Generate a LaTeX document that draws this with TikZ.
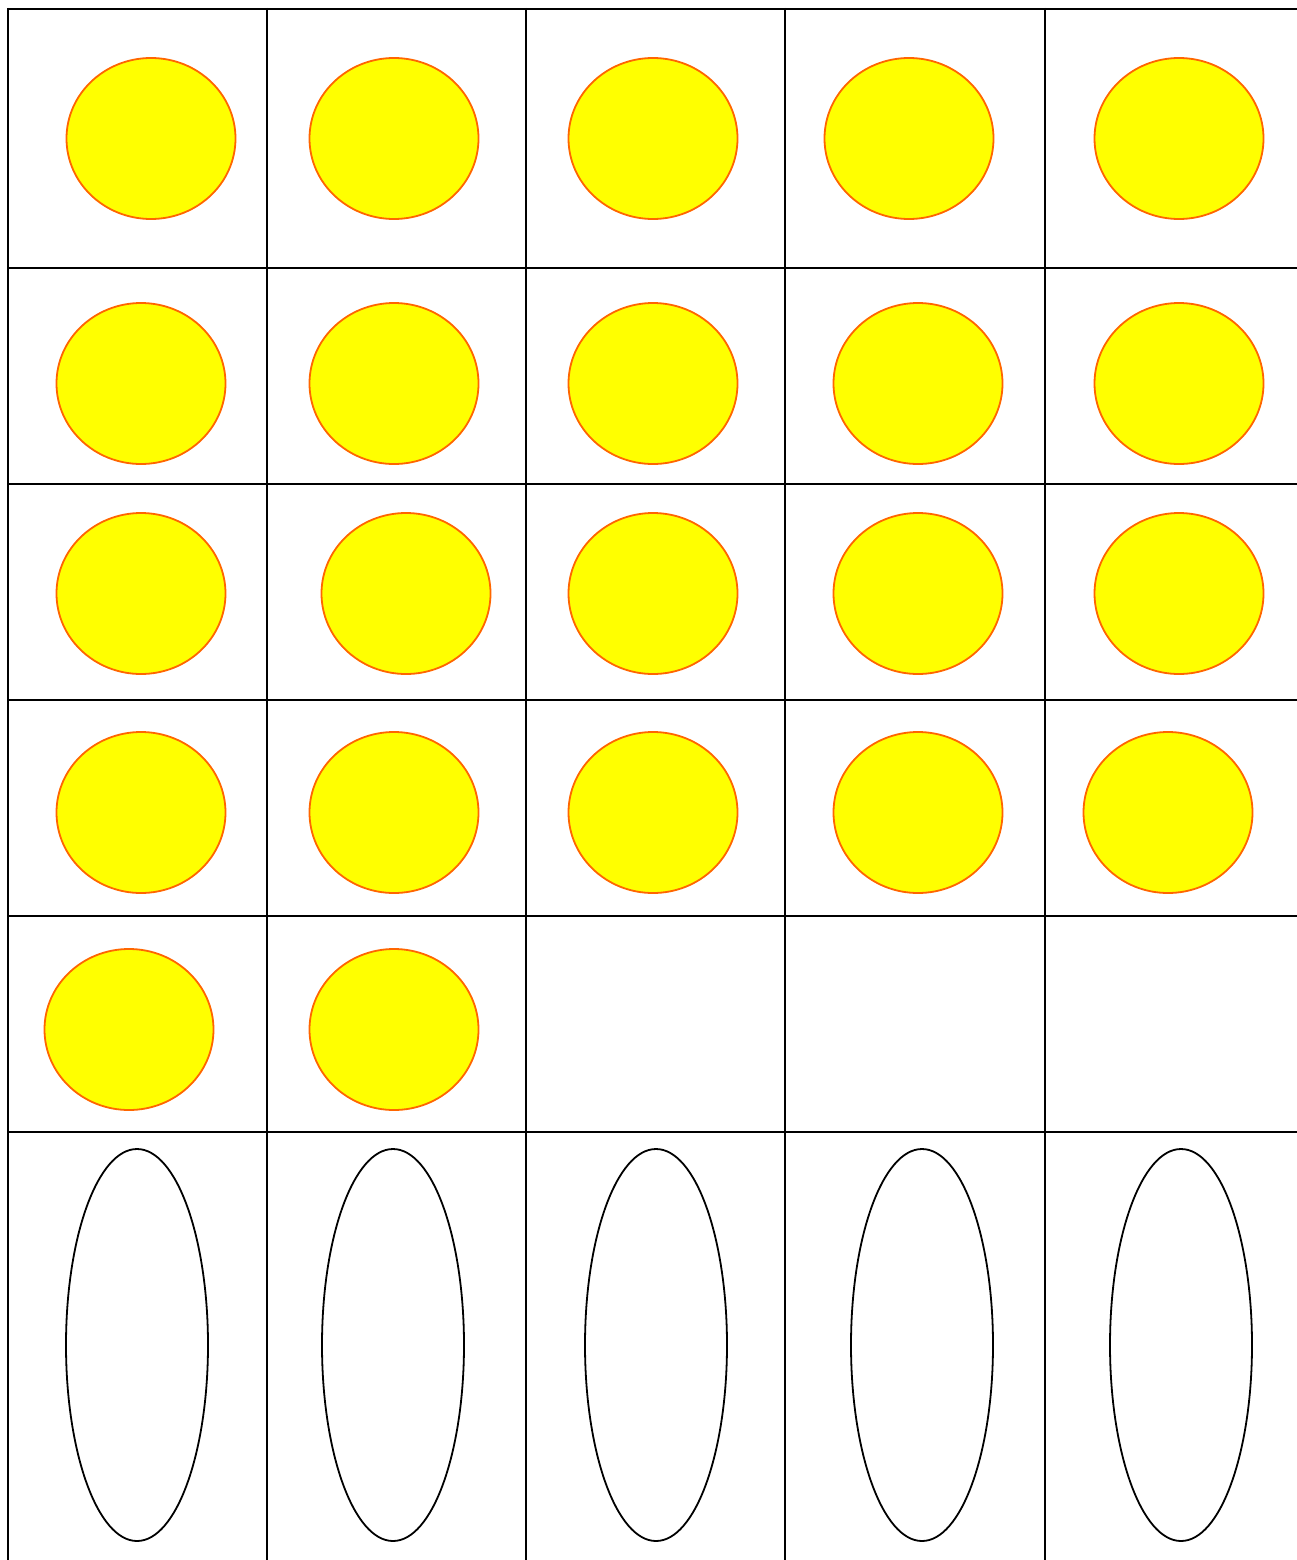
\documentclass[tikz,border=0pt]{standalone}
\usetikzlibrary{shapes.geometric}
\definecolor{sunfill}{RGB}{255,255,0}
\definecolor{sunline}{RGB}{255,102,0}
\begin{document}
\begin{tikzpicture}[x=1pt,y=-1pt,
  gridline/.style={line width=2pt,black},
  sun/.style={ellipse,draw=sunline,fill=sunfill,line width=1.8pt,minimum width=169pt,minimum height=161pt,inner sep=0pt},
  pod/.style={ellipse,draw=black,line width=1.8pt,minimum width=142pt,minimum height=392pt,inner sep=0pt}]
\useasboundingbox (0,0) rectangle (1297,1560);
\foreach \yy in {9,268,484,700,916,1132} \draw[gridline] (7,\yy) -- (1297,\yy);
\foreach \xx in {8,267,526,785,1045} \draw[gridline] (\xx,8) -- (\xx,1560);
% row 1
\node[sun] (a1) at (151,138.5) {};
\node[sun] (a2) at (394,138.5) {};
\node[sun] (a3) at (653,138.5) {};
\node[sun] (a4) at (909,138.5) {};
\node[sun] (a5) at (1179,138.5) {};
% row 2
\node[sun] (b1) at (141,383.5) {};
\node[sun] (b2) at (394,383.5) {};
\node[sun] (b3) at (653,383.5) {};
\node[sun] (b4) at (918,383.5) {};
\node[sun] (b5) at (1179,383.5) {};
% row 3
\node[sun] (c1) at (141,593.5) {};
\node[sun] (c2) at (406,593.5) {};
\node[sun] (c3) at (653,593.5) {};
\node[sun] (c4) at (918,593.5) {};
\node[sun] (c5) at (1179,593.5) {};
% row 4
\node[sun] (d1) at (141,812.5) {};
\node[sun] (d2) at (394,812.5) {};
\node[sun] (d3) at (653,812.5) {};
\node[sun] (d4) at (918,812.5) {};
\node[sun] (d5) at (1168,812.5) {};
% row 5
\node[sun] (e1) at (129,1029.5) {};
\node[sun] (e2) at (394,1029.5) {};
% row 6
\node[pod] (f1) at (137,1345) {};
\node[pod] (f2) at (393,1345) {};
\node[pod] (f3) at (656,1345) {};
\node[pod] (f4) at (922,1345) {};
\node[pod] (f5) at (1181,1345) {};
\end{tikzpicture}
\end{document}
